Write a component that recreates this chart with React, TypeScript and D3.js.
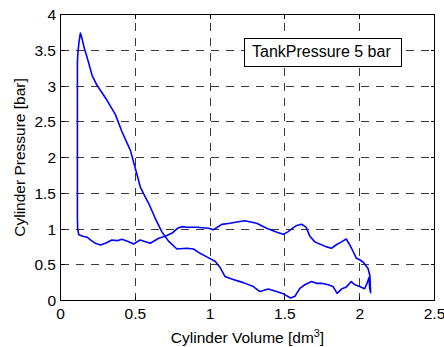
import React from "react";
import * as d3 from "d3";

// Cylinder volume [dm^3] along the recorded cycle
const volume: number[] = [
  0.113, 0.118, 0.124, 0.133, 0.144, 0.16, 0.178, 0.211, 0.244, 0.311, 0.367, 0.411,
  0.467, 0.5, 0.533, 0.556, 0.589, 0.633, 0.678, 0.722, 0.778, 0.844, 0.889, 0.933,
  0.978, 1.033, 1.067, 1.1, 1.144, 1.222, 1.289, 1.333, 1.389, 1.444, 1.489, 1.538,
  1.567, 1.6, 1.633, 1.678, 1.711, 1.744, 1.789, 1.822, 1.849, 1.878, 1.911, 1.944,
  1.967, 2.0, 2.033, 2.051, 2.062, 2.067, 2.073,
  2.068, 2.055, 2.044, 2.024, 2.0, 1.978, 1.956, 1.933, 1.91, 1.878, 1.844, 1.811,
  1.778, 1.744, 1.7, 1.667, 1.64, 1.611, 1.58, 1.556, 1.52, 1.489, 1.447, 1.378,
  1.311, 1.233, 1.169, 1.133, 1.078, 1.022, 0.989, 0.911, 0.844, 0.811, 0.782, 0.744,
  0.7, 0.656, 0.6, 0.567, 0.533, 0.489, 0.456, 0.411, 0.378, 0.344, 0.3, 0.267,
  0.233, 0.2, 0.178, 0.15, 0.122, 0.115, 0.113, 0.113,
];

// Cylinder pressure [bar] at each volume sample
const pressure: number[] = [
  3.34, 3.5, 3.62, 3.74, 3.66, 3.52, 3.4, 3.15, 3.01, 2.8, 2.6, 2.36,
  2.1, 1.85, 1.59, 1.49, 1.36, 1.15, 0.96, 0.83, 0.72, 0.73, 0.72, 0.66,
  0.61, 0.55, 0.46, 0.335, 0.3, 0.25, 0.195, 0.125, 0.16, 0.125, 0.093, 0.035,
  0.06, 0.17, 0.22, 0.265, 0.24, 0.24, 0.22, 0.195, 0.1, 0.16, 0.19, 0.265,
  0.22, 0.195, 0.165, 0.25, 0.32, 0.17, 0.11,
  0.35, 0.45, 0.48, 0.535, 0.57, 0.59, 0.685, 0.78, 0.86, 0.82, 0.78, 0.73,
  0.75, 0.78, 0.82, 0.9, 1.03, 1.066, 1.05, 1.02, 0.96, 0.925, 0.955, 1.01,
  1.08, 1.116, 1.094, 1.08, 1.065, 0.99, 1.01, 1.024, 1.024, 1.033, 1.01, 0.94,
  0.9, 0.87, 0.8, 0.823, 0.847, 0.79, 0.823, 0.857, 0.837, 0.847, 0.8, 0.777,
  0.8, 0.847, 0.885, 0.9, 0.92, 1.0, 1.15, 3.34,
];

const xTicks: number[] = [0, 0.5, 1, 1.5, 2, 2.5];
const yTicks: number[] = [0, 0.5, 1, 1.5, 2, 2.5, 3, 3.5, 4];
const xTickLabels: string[] = ["0", "0.5", "1", "1.5", "2", "2.5"];
const yTickLabels: string[] = ["0", "0.5", "1", "1.5", "2", "2.5", "3", "3.5", "4"];

const annotation = "TankPressure 5 bar";

const W = 444;
const H = 347;
const FONT = "'Liberation Sans', Arial, Helvetica, sans-serif";
const FS = 15.5;

export default function App() {
  const x = d3.scaleLinear().domain([0, 2.5]).range([60.5, 434.5]);
  const y = d3.scaleLinear().domain([0, 4]).range([300.5, 14.5]);

  const pts: [number, number][] = volume.map((v, i) => [v, pressure[i]]);
  const line = d3
    .line<[number, number]>()
    .x((d) => x(d[0]))
    .y((d) => y(d[1]));

  const [x0, x1] = x.range();
  const [y0, y1] = y.range();
  const tickLen = 4;

  return (
    <div style={{ position: "fixed", left: 0, top: 0, width: W, height: H, background: "#fff" }}>
      <svg width={W} height={H} viewBox={`0 0 ${W} ${H}`} style={{ display: "block" }}>
        <rect x={0} y={0} width={W} height={H} fill="#fff" />
        {/* grid */}
        <g stroke="#3a3a3a" strokeWidth={1} strokeDasharray="8,7" shapeRendering="crispEdges">
          {xTicks.slice(1, -1).map((t) => (
            <line key={"gx" + t} x1={x(t)} x2={x(t)} y1={y0} y2={y1} />
          ))}
          {yTicks.slice(1, -1).map((t) => (
            <line key={"gy" + t} x1={x0} x2={x1} y1={y(t)} y2={y(t)} />
          ))}
        </g>
        {/* ticks (inward, all sides) */}
        <g stroke="#000" strokeWidth={1} shapeRendering="crispEdges">
          {xTicks.map((t) => (
            <g key={"tx" + t}>
              <line x1={x(t)} x2={x(t)} y1={y0} y2={y0 - tickLen} />
              <line x1={x(t)} x2={x(t)} y1={y1} y2={y1 + tickLen} />
            </g>
          ))}
          {yTicks.map((t) => (
            <g key={"ty" + t}>
              <line x1={x0} x2={x0 + tickLen} y1={y(t)} y2={y(t)} />
              <line x1={x1} x2={x1 - tickLen} y1={y(t)} y2={y(t)} />
            </g>
          ))}
        </g>
        {/* data */}
        <path d={line(pts) || ""} fill="none" stroke="#0000ff" strokeWidth={1.6} strokeLinejoin="round" />
        {/* annotation box */}
        <rect x={244.5} y={38.5} width={157} height={27.5} fill="#fff" stroke="#000" strokeWidth={1} shapeRendering="crispEdges" />
        <text x={252} y={57} fontFamily={FONT} fontSize={16} fill="#000">
          {annotation}
        </text>
        {/* axes box */}
        <rect x={x0} y={y1} width={x1 - x0} height={y0 - y1} fill="none" stroke="#000" strokeWidth={1} shapeRendering="crispEdges" />
        {/* tick labels */}
        <g fontFamily={FONT} fontSize={FS} fill="#000">
          {xTicks.map((t, i) => (
            <text key={"lx" + t} x={x(t)} y={318.5} textAnchor="middle">
              {xTickLabels[i]}
            </text>
          ))}
          {yTicks.map((t, i) => (
            <text key={"ly" + t} x={56} y={y(t) + 5.5} textAnchor="end">
              {yTickLabels[i]}
            </text>
          ))}
        </g>
        {/* axis labels */}
        <text x={(x0 + x1) / 2} y={343} textAnchor="middle" fontFamily={FONT} fontSize={FS} fill="#000">
          Cylinder Volume [dm
          <tspan dy={-6} fontSize={FS * 0.7}>3</tspan>
          <tspan dy={6}>]</tspan>
        </text>
        <text
          transform={`translate(25,${(y0 + y1) / 2}) rotate(-90)`}
          textAnchor="middle"
          fontFamily={FONT}
          fontSize={FS}
          fill="#000"
        >
          Cylinder Pressure [bar]
        </text>
      </svg>
    </div>
  );
}
